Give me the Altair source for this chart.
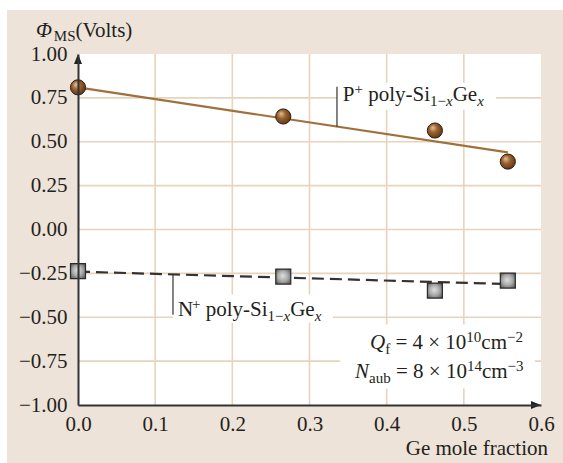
import altair as alt
import pandas as pd

# ---------------- data ----------------
ge_x = [0.0, 0.266, 0.4625, 0.557]
phi_p = [0.81, 0.644, 0.564, 0.387]      # P+ poly-Si(1-x)Ge(x)
phi_n = [-0.237, -0.268, -0.348, -0.291] # N+ poly-Si(1-x)Ge(x)
fit_x = [0.0, 0.557]
fit_p = [0.81, 0.439]
fit_n = [-0.24, -0.311]
x_ticks = [0.0, 0.1, 0.2, 0.3, 0.4, 0.5, 0.6]
y_ticks = [-1.0, -0.75, -0.5, -0.25, 0.0, 0.25, 0.5, 0.75, 1.0]

# ---------------- styling ----------------
SERIF = "Liberation Serif"
INK = "#231f20"
BEIGE = "#ede3d8"
GRID = "#e8d4bc"
BROWN_LINE = "#a0703c"
W_PLOT, H_PLOT = 463, 351
M, S = 21, 15
SUB, SUP = 6, -6

xs = alt.Scale(domain=[0, 0.6], nice=False, zero=False)
ys = alt.Scale(domain=[-1, 1], nice=False, zero=False)
x_axis = alt.Axis(values=x_ticks, format=".1f", grid=False, ticks=False,
                  domainColor="#333333", domainWidth=2, labelFont=SERIF,
                  labelFontSize=M, labelColor=INK, labelPadding=8, title=None,
                  labelFlush=False, zindex=1)
y_axis = alt.Axis(values=y_ticks, grid=False, ticks=False,
                  labelExpr="replace(format(datum.value, '.2f'), '-', '\u2013')",
                  domainColor="#333333", domainWidth=2, labelFont=SERIF,
                  labelFontSize=M, labelColor=INK, labelPadding=11, title=None,
                  zindex=1)


def X(f):
    return alt.X(f, type="quantitative", scale=xs, axis=x_axis)


def Y(f):
    return alt.Y(f, type="quantitative", scale=ys, axis=y_axis)


one = pd.DataFrame({"a": [0]})

# background panel and white plotting area
beige = alt.Chart(one).mark_rect(color=BEIGE).encode(
    x=alt.value(-71), x2=alt.value(485), y=alt.value(-44), y2=alt.value(409))
white = alt.Chart(one).mark_rect(color="white").encode(
    x=alt.value(0), x2=alt.value(W_PLOT), y=alt.value(0), y2=alt.value(H_PLOT))

# grid lines
vgrid_df = pd.DataFrame({"x": x_ticks[1:-1], "y": [-1.0] * 5, "y2": [1.0] * 5})
hgrid_df = pd.DataFrame({"y": y_ticks[1:-1], "x": [0.0] * 7, "x2": [0.6] * 7})
vgrid = alt.Chart(vgrid_df).mark_rule(color=GRID, strokeWidth=1.6).encode(
    x=X("x"), y=Y("y"), y2="y2")
hgrid = alt.Chart(hgrid_df).mark_rule(color=GRID, strokeWidth=1.6).encode(
    y=Y("y"), x=X("x"), x2="x2")

# white boxes behind annotation texts
box_df = pd.DataFrame({
    "x": [0.3356, 0.1231, 0.3395],
    "x2": [0.5417, 0.3304, 0.592],
    "y": [0.836, -0.371, -0.541],
    "y2": [0.682, -0.531, -0.906],
})
boxes = alt.Chart(box_df).mark_rect(color="white").encode(
    x=X("x"), x2="x2", y=Y("y"), y2="y2")

# fitted lines
fit_df = pd.DataFrame({"x": fit_x, "p": fit_p, "n": fit_n})
line_p = alt.Chart(fit_df).mark_line(color=BROWN_LINE, strokeWidth=2.2).encode(
    x=X("x"), y=Y("p"))
line_n = alt.Chart(fit_df).mark_line(color="#333333", strokeWidth=2.2,
                                     strokeDash=[12, 6]).encode(
    x=X("x"), y=Y("n"))

# leader lines
lead_df = pd.DataFrame({"x": [0.3356, 0.1231], "y": [0.813, -0.258],
                        "y2": [0.586, -0.486]})
leaders = alt.Chart(lead_df).mark_rule(color="#333333", strokeWidth=1.2).encode(
    x=X("x"), y=Y("y"), y2="y2")

# data points
pts_df = pd.DataFrame({"x": ge_x, "p": phi_p, "n": phi_n})
brown_grad = alt.RadialGradient(
    gradient="radial",
    stops=[alt.GradientStop(offset=0, color="#e6c49c"),
           alt.GradientStop(offset=0.45, color="#9a6330"),
           alt.GradientStop(offset=1, color="#5a3512")],
    x1=0.35, y1=0.3, r1=0, x2=0.45, y2=0.45, r2=0.6)
gray_grad = alt.RadialGradient(
    gradient="radial",
    stops=[alt.GradientStop(offset=0, color="#e0e0e0"),
           alt.GradientStop(offset=0.5, color="#a8a8a8"),
           alt.GradientStop(offset=1, color="#4a4a4a")],
    x1=0.45, y1=0.45, r1=0, x2=0.5, y2=0.5, r2=0.7)
pts_p = alt.Chart(pts_df).mark_point(shape="circle", filled=True, fill=brown_grad,
                                     fillOpacity=1, stroke="#2e1e10",
                                     strokeWidth=1, size=230, opacity=1).encode(
    x=X("x"), y=Y("p"))
pts_n = alt.Chart(pts_df).mark_point(shape="square", filled=True, fill=gray_grad,
                                     fillOpacity=1, stroke="#2a2a2a",
                                     strokeWidth=1.2, size=225, opacity=1).encode(
    x=X("x"), y=Y("n"))

# axis arrows
arr_y = alt.Chart(pd.DataFrame({"x": [0.0], "y": [1.0]})).mark_point(
    shape="M0,0 L-0.4,1 L0.4,1 Z", filled=True, color="#222222", size=400,
    opacity=1).encode(x=X("x"), y=Y("y"))
arr_x = alt.Chart(pd.DataFrame({"x": [0.6], "y": [-1.0]})).mark_point(
    shape="M0,0 L-1,-0.4 L-1,0.4 Z", filled=True, color="#222222", size=400,
    opacity=1).encode(x=X("x"), y=Y("y"))

# ---------------- rich text helper ----------------
WID = {'P': .556, '+': .564, ' ': .25, 'p': .5, 'o': .5, 'l': .278, 'y': .5,
       '-': .333, 'S': .556, 'i': .278, '1': .5, '\u2212': .564, 'x': .444,
       'G': .722, 'e': .444, 'N': .667, 'Q': .722, 'f': .333, '=': .564,
       '4': .5, '\u00d7': .564, '0': .5, 'c': .444, 'm': .778, '2': .5,
       'a': .444, 'u': .5, 'b': .5, '8': .5, '3': .5, '\u03a6': .85,
       'M': .889, '(': .333, ')': .333, 'V': .722, 't': .278, 's': .389}


def seg_w(text, size):
    return sum(WID.get(c, 0.5) for c in text) * size


def rich(df, xe, ye, segments):
    layers = []
    off = 0.0
    for text, size, style, shift in segments:
        lead = len(text) - len(text.lstrip(" "))
        off += lead * WID[" "] * size
        core = text.strip(" ")
        trail = len(text.lstrip(" ")) - len(core)
        layers.append(alt.Chart(df).mark_text(
            text=core, font=SERIF, fontSize=size, fontStyle=style, align="left",
            baseline="middle", dx=off, dy=shift, color=INK).encode(x=xe, y=ye))
        off += seg_w(core, size) + trail * WID[" "] * size
    return layers


lab_p = rich(pd.DataFrame({"x": [0.3432], "y": [0.765]}), X("x"), Y("y"), [
    ("P", M, "normal", 0), ("+", S, "normal", SUP), (" poly-Si", M, "normal", 0),
    ("1\u2212", S, "normal", SUB), ("x", S, "italic", SUB), ("Ge", M, "normal", 0),
    ("x", S, "italic", SUB)])
lab_n = rich(pd.DataFrame({"x": [0.1296], "y": [-0.457]}), X("x"), Y("y"), [
    ("N", M, "normal", 0), ("+", S, "normal", SUP), (" poly-Si", M, "normal", 0),
    ("1\u2212", S, "normal", SUB), ("x", S, "italic", SUB), ("Ge", M, "normal", 0),
    ("x", S, "italic", SUB)])
lab_q = rich(pd.DataFrame({"x": [0.3784], "y": [-0.645]}), X("x"), Y("y"), [
    ("Q", M, "italic", 0), ("f", S, "normal", SUB),
    (" = 4 \u00d7 10", M, "normal", 0), ("10", S, "normal", SUP),
    ("cm", M, "normal", 0), ("\u22122", S, "normal", SUP)])
lab_na = rich(pd.DataFrame({"x": [0.359], "y": [-0.81]}), X("x"), Y("y"), [
    ("N", M, "italic", 0), ("aub", S, "normal", SUB),
    (" = 8 \u00d7 10", M, "normal", 0), ("14", S, "normal", SUP),
    ("cm", M, "normal", 0), ("\u22123", S, "normal", SUP)])

ytitle = rich(one, alt.value(-42), alt.value(-23), [
    ("\u03a6", M, "italic", 0), ("MS", S, "normal", 5),
    ("(Volts)", M, "normal", 0)])

xtitle = alt.Chart(one).mark_text(
    text="Ge mole fraction", font=SERIF, fontSize=M, align="right",
    baseline="middle", color=INK).encode(x=alt.value(470), y=alt.value(395))

chart = alt.layer(
    beige, white, vgrid, hgrid, boxes, line_p, line_n, leaders, pts_p, pts_n,
    arr_y, arr_x, *lab_p, *lab_n, *lab_q, *lab_na, *ytitle, xtitle
).properties(
    width=W_PLOT, height=H_PLOT,
    padding={"left": 78, "top": 54, "right": 22, "bottom": 58},
    autosize=alt.AutoSizeParams(type="none"),
    background="white",
).configure_view(stroke=None)

chart.save("out.html", embed_options={"renderer": "svg", "actions": False})
